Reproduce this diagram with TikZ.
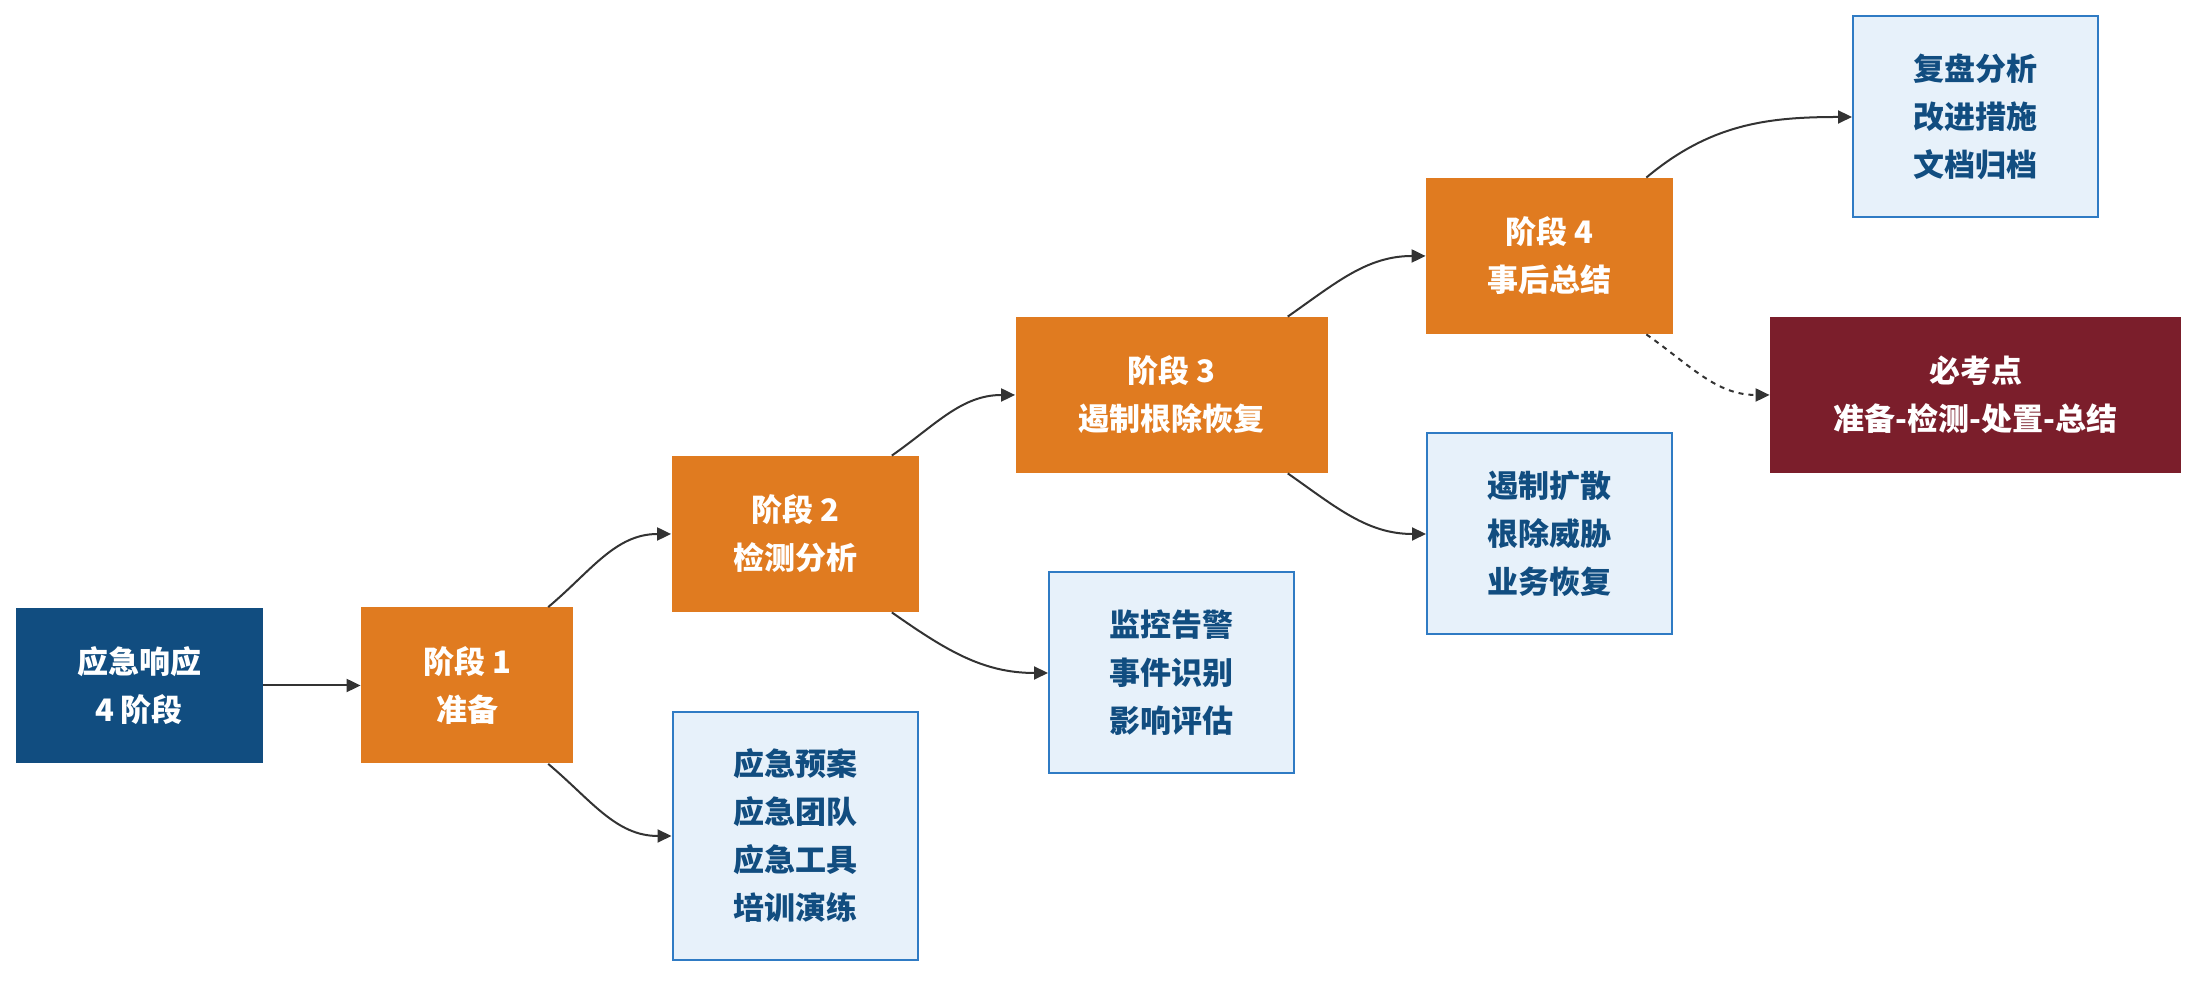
\documentclass[tikz,border=0pt]{standalone}
\usepackage{fontspec}
\setmainfont{Noto Sans CJK SC}
\usetikzlibrary{arrows.meta}
\definecolor{rootblue}{HTML}{114D80}
\definecolor{stageorange}{HTML}{E07B20}
\definecolor{notefill}{HTML}{E7F1FA}
\definecolor{noteline}{HTML}{2F7BC4}
\definecolor{keyred}{HTML}{7B1E2B}
\definecolor{linkgray}{HTML}{333333}

\begin{document}
\begin{tikzpicture}[x=0.5pt,y=0.5pt,>={Triangle[length=7pt,width=6.5pt]},
  font=\fontsize{15.5pt}{24pt}\selectfont\bfseries,
  box/.style={align=center,inner sep=0pt},
  rootbox/.style={box,fill=rootblue,text=white,minimum width=123.5pt,minimum height=77.5pt},
  stagebox/.style={box,fill=stageorange,text=white,minimum height=78pt},
  notebox/.style={box,fill=notefill,draw=noteline,line width=1pt,text=rootblue,minimum width=122.5pt},
  keybox/.style={box,fill=keyred,text=white,minimum width=205.5pt,minimum height=78pt},
  link/.style={->,linkgray,line width=1pt},
  keylink/.style={link,dash pattern=on 2.5pt off 2.5pt}]
\useasboundingbox (0,0) rectangle (2212,984);

% main chain
\node[rootbox] (root) at (139,298.5) {应急响应\\4 阶段};
\node[stagebox,minimum width=106pt] (s1) at (467,298.5) {阶段 1\\准备};
\node[stagebox,minimum width=123.5pt] (s2) at (795,450) {阶段 2\\检测分析};
\node[stagebox,minimum width=156pt] (s3) at (1171.5,589) {阶段 3\\遏制根除恢复};
\node[stagebox,minimum width=123.5pt] (s4) at (1549.5,728) {阶段 4\\事后总结};

% details
\node[notebox,minimum height=124pt] (d1) at (795,148) {应急预案\\应急团队\\应急工具\\培训演练};
\node[notebox,minimum height=100.5pt] (d2) at (1171.5,311) {监控告警\\事件识别\\影响评估};
\node[notebox,minimum height=100.5pt] (d3) at (1549.5,450) {遏制扩散\\根除威胁\\业务恢复};
\node[notebox,minimum height=100.5pt] (d4) at (1975.5,867) {复盘分析\\改进措施\\文档归档};
\node[keybox] (key) at (1975.5,589) {必考点\\准备-检测-处置-总结};

\draw[link] (root.east) -- (s1.west);
\draw[link] (s1.44) to[out=40,in=180] (s2.west);
\draw[link] (s1.-44) to[out=-40,in=180] (d1.west);
\draw[link] (s2.39) to[out=35,in=180] (s3.west);
\draw[link] (s2.-39) to[out=-35,in=180] (d2.west);
\draw[link] (s3.34) to[out=35,in=180] (s4.west);
\draw[link] (s3.-34) to[out=-35,in=180] (d3.west);
\draw[link] (s4.39) to[out=40,in=180] (d4.west);
\draw[keylink] (s4.-39) to[out=-35,in=180] (key.west);
\end{tikzpicture}
\end{document}
